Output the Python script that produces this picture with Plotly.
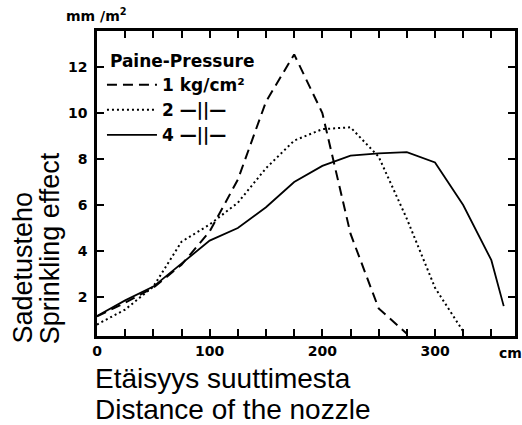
import plotly.graph_objects as go

# Distance from nozzle (cm) and sprinkling effect (mm/m2)
x_1kg = [0, 25, 50, 75, 100, 125, 150, 175, 200, 225, 250, 275]
y_1kg = [1.15, 1.75, 2.4, 3.4, 4.85, 7.1, 10.5, 12.55, 10.0, 4.75, 1.5, 0.4]

x_2kg = [0, 25, 50, 75, 100, 125, 150, 175, 200, 225, 250, 275, 300, 325]
y_2kg = [0.8, 1.45, 2.45, 4.4, 5.15, 6.1, 7.6, 8.8, 9.3, 9.38, 8.1, 5.4, 2.4, 0.5]

x_4kg = [0, 25, 50, 75, 100, 125, 150, 175, 200, 225, 250, 275, 300, 325, 350, 361]
y_4kg = [1.17, 1.85, 2.45, 3.45, 4.45, 5.0, 5.9, 7.0, 7.7, 8.15, 8.25, 8.3, 7.85, 6.0, 3.6, 1.6]

x_ticks = [0, 25, 50, 75, 100, 125, 150, 175, 200, 225, 250, 275, 300, 325, 350]
x_labels = ["0", "", "", "", "100", "", "", "", "200", "", "", "", "300", "", ""]
y_ticks = [2, 4, 6, 8, 10, 12]
y_labels = ["2", "4", "6", "8", "10", "12"]

names = ["<b>1 kg/cm²</b>", "<b>2 —||—</b>", "<b>4 —||—</b>"]

fig = go.Figure()
fig.add_trace(go.Scatter(x=x_1kg, y=y_1kg, mode="lines", name=names[0],
                         line=dict(color="black", width=2, dash="10px,6px")))
fig.add_trace(go.Scatter(x=x_2kg, y=y_2kg, mode="lines", name=names[1],
                         line=dict(color="black", width=2, dash="2px,3px")))
fig.add_trace(go.Scatter(x=x_4kg, y=y_4kg, mode="lines", name=names[2],
                         line=dict(color="black", width=1.8)))

tickfont = dict(family="DejaVu Sans", size=14, color="black", weight="bold")
ylab_font = dict(family="Liberation Sans, Arial", size=27, color="black")
xlab_font = dict(family="Liberation Sans, Arial", size=28, color="black")

def px_x(p):
    return (p - 97) / 421

def px_y(p):
    return (336 - p) / 305

fig.update_layout(
    width=522, height=425,
    margin=dict(l=97, r=4, t=31, b=89),
    paper_bgcolor="white", plot_bgcolor="white",
    showlegend=True,
    legend=dict(
        x=px_x(102), y=px_y(45), xanchor="left", yanchor="top",
        bgcolor="rgba(0,0,0,0)", borderwidth=0,
        font=dict(family="DejaVu Sans", size=17, color="black"),
        title=dict(text="<b> Paine-Pressure</b>", side="top",
                   font=dict(family="DejaVu Sans", size=17, color="black")),
        tracegroupgap=0, itemwidth=50,
    ),
    xaxis=dict(
        range=[0, 371], tickvals=x_ticks, ticktext=x_labels,
        ticks="inside", ticklen=7, tickwidth=2, tickcolor="black",
        showline=True, linewidth=2.5, linecolor="black", mirror="ticks",
        showgrid=False, zeroline=False, tickfont=tickfont,
    ),
    yaxis=dict(
        range=[0.3, 13.57], tickvals=y_ticks, ticktext=y_labels,
        ticks="inside", ticklen=7, tickwidth=2, tickcolor="black",
        showline=True, linewidth=2.5, linecolor="black", mirror="ticks",
        showgrid=False, zeroline=False, tickfont=tickfont,
        ticklabelstandoff=4,
    ),
    annotations=[
        dict(text="<b>mm /m<sup>2</sup></b>", xref="paper", yref="paper",
             x=px_x(64), y=px_y(4), xanchor="left", yanchor="top",
             showarrow=False, font=dict(family="DejaVu Sans", size=14, color="black")),
        dict(text="<b>cm</b>", xref="paper", yref="paper",
             x=px_x(500), y=px_y(343), xanchor="left", yanchor="top",
             showarrow=False, font=tickfont),
        dict(text="Sadetusteho", xref="paper", yref="paper",
             x=px_x(22), y=px_y(346), xanchor="center", yanchor="bottom",
             textangle=-90, showarrow=False, font=ylab_font),
        dict(text="Sprinkling effect", xref="paper", yref="paper",
             x=px_x(50), y=px_y(346), xanchor="center", yanchor="bottom",
             textangle=-90, showarrow=False, font=ylab_font),
        dict(text="Etäisyys suuttimesta", xref="paper", yref="paper",
             x=px_x(93), y=px_y(378), xanchor="left", yanchor="middle",
             showarrow=False, font=xlab_font),
        dict(text="Distance of the nozzle", xref="paper", yref="paper",
             x=px_x(93), y=px_y(409), xanchor="left", yanchor="middle",
             showarrow=False, font=xlab_font),
    ],
)

fig.write_html("out.html")
